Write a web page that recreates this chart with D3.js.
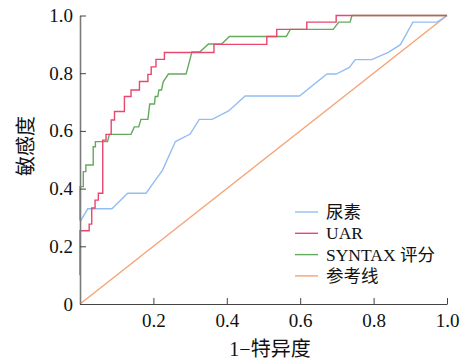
<!DOCTYPE html>
<html>
<head>
<meta charset="utf-8">
<script src="https://cdn.jsdelivr.net/npm/d3@7"></script>
<style>
  body { margin: 0; background: #fff; }
  text { font-family: "Liberation Serif", "Noto Sans CJK SC", serif; fill: #111; }
</style>
</head>
<body>
<svg id="chart" width="466" height="360"></svg>
<script>
// ROC curves: [1 - specificity, sensitivity]
const ureaPts = [[0,0.285],[0.021,0.33],[0.087,0.33],[0.13,0.384],[0.18,0.384],[0.20,0.42],
  [0.225,0.464],[0.26,0.563],[0.30,0.589],[0.325,0.64],[0.36,0.64],[0.405,0.669],[0.45,0.721],
  [0.598,0.721],[0.673,0.797],[0.698,0.797],[0.734,0.82],[0.75,0.847],[0.795,0.847],
  [0.84,0.872],[0.873,0.899],[0.907,0.977],[0.973,0.977],[1,1]];
const uarPts = [[0,0.10],[0,0.254],[0.025,0.254],[0.025,0.277],[0.032,0.277],[0.032,0.333],
  [0.041,0.333],[0.041,0.36],[0.05,0.36],[0.05,0.384],[0.062,0.384],[0.062,0.568],[0.071,0.568],
  [0.071,0.588],[0.085,0.588],[0.085,0.638],[0.094,0.638],[0.094,0.667],[0.121,0.667],
  [0.121,0.719],[0.139,0.719],[0.139,0.742],[0.162,0.742],[0.162,0.771],[0.185,0.771],
  [0.185,0.796],[0.194,0.796],[0.194,0.822],[0.207,0.822],[0.207,0.848],[0.23,0.848],
  [0.23,0.872],[0.365,0.872],[0.365,0.90],[0.509,0.90],[0.509,0.927],[0.536,0.927],
  [0.536,0.952],[0.618,0.952],[0.618,0.977],[0.698,0.977],[0.698,1],[1,1]];
const syntaxPts = [[0,0.29],[0,0.407],[0.009,0.407],[0.009,0.459],[0.016,0.459],[0.016,0.482],
  [0.036,0.482],[0.036,0.545],[0.042,0.545],[0.042,0.563],[0.075,0.563],[0.08,0.588],
  [0.139,0.588],[0.148,0.614],[0.16,0.614],[0.166,0.64],[0.185,0.64],[0.19,0.693],[0.203,0.693],
  [0.205,0.719],[0.212,0.719],[0.215,0.742],[0.222,0.742],[0.227,0.771],[0.241,0.797],
  [0.289,0.797],[0.305,0.874],[0.327,0.874],[0.35,0.901],[0.386,0.901],[0.407,0.927],
  [0.562,0.927],[0.573,0.952],[0.69,0.952],[0.705,0.977],[0.736,0.977],[0.741,1],[1,1]];
const refPts = [[0,0],[1,1]];

const seriesNames = ["尿素", "UAR", "SYNTAX 评分", "参考线"];
const seriesColors = ["#94bdf2", "#e8476e", "#63aa5e", "#f7a275"];
const tickValues = [0, 0.2, 0.4, 0.6, 0.8, 1.0];

const svg = d3.select("#chart");

const x = d3.scaleLinear().domain([0, 1]).range([80, 447]);
const y = d3.scaleLinear().domain([0, 1]).range([304, 15.5]);

const line = d3.line()
    .x(function(d) { return x(d[0]); })
    .y(function(d) { return y(d[1]); });

// curves, reference line first so it sits underneath
const allSeries = [ureaPts, uarPts, syntaxPts, refPts];
[3, 0, 2, 1].forEach(function(i) {
  svg.append("path")
      .datum(allSeries[i])
      .attr("fill", "none")
      .attr("stroke", seriesColors[i])
      .attr("stroke-width", 1.4)
      .attr("d", line);
});

// y axis
const yAxis = svg.append("g")
    .attr("transform", "translate(80,0)")
    .call(d3.axisLeft(y).tickValues(tickValues).tickSizeInner(-6).tickSizeOuter(0).tickPadding(7)
      .tickFormat(function(d) { return d === 0 ? "0" : d.toFixed(1); }));
yAxis.select(".domain").attr("stroke", "#7a7a7a").attr("stroke-width", 1.6);
yAxis.selectAll(".tick line").attr("stroke", "#444");
yAxis.selectAll("text").attr("font-size", 19).style("font-family", "Liberation Serif");

// x axis
const xAxis = svg.append("g")
    .attr("transform", "translate(0,304)")
    .call(d3.axisBottom(x).tickValues(tickValues.slice(1)).tickSizeInner(-6).tickSizeOuter(0).tickPadding(10)
      .tickFormat(function(d) { return d.toFixed(1); }));
xAxis.select(".domain").attr("stroke", "#444").attr("stroke-width", 1.1);
xAxis.selectAll(".tick line").attr("stroke", "#444");
xAxis.selectAll("text").attr("font-size", 19).style("font-family", "Liberation Serif");

// axis titles
svg.append("text")
    .attr("x", 270).attr("y", 356)
    .attr("text-anchor", "middle")
    .attr("font-size", 20)
    .text("1−特异度");

svg.append("text")
    .attr("transform", "translate(33,146) rotate(-90)")
    .attr("text-anchor", "middle")
    .attr("font-size", 20)
    .text("敏感度");

// legend
const leg = svg.append("g").selectAll("g").data(seriesNames).enter().append("g")
    .attr("transform", function(d, i) { return "translate(295," + (212 + i * 21.3) + ")"; });
leg.append("line")
    .attr("x1", 0).attr("x2", 23)
    .attr("stroke", function(d, i) { return seriesColors[i]; })
    .attr("stroke-width", 1.4);
leg.append("text")
    .attr("x", 31).attr("dy", "0.34em")
    .attr("font-size", 17.5)
    .text(function(d) { return d; });
</script>
</body>
</html>
